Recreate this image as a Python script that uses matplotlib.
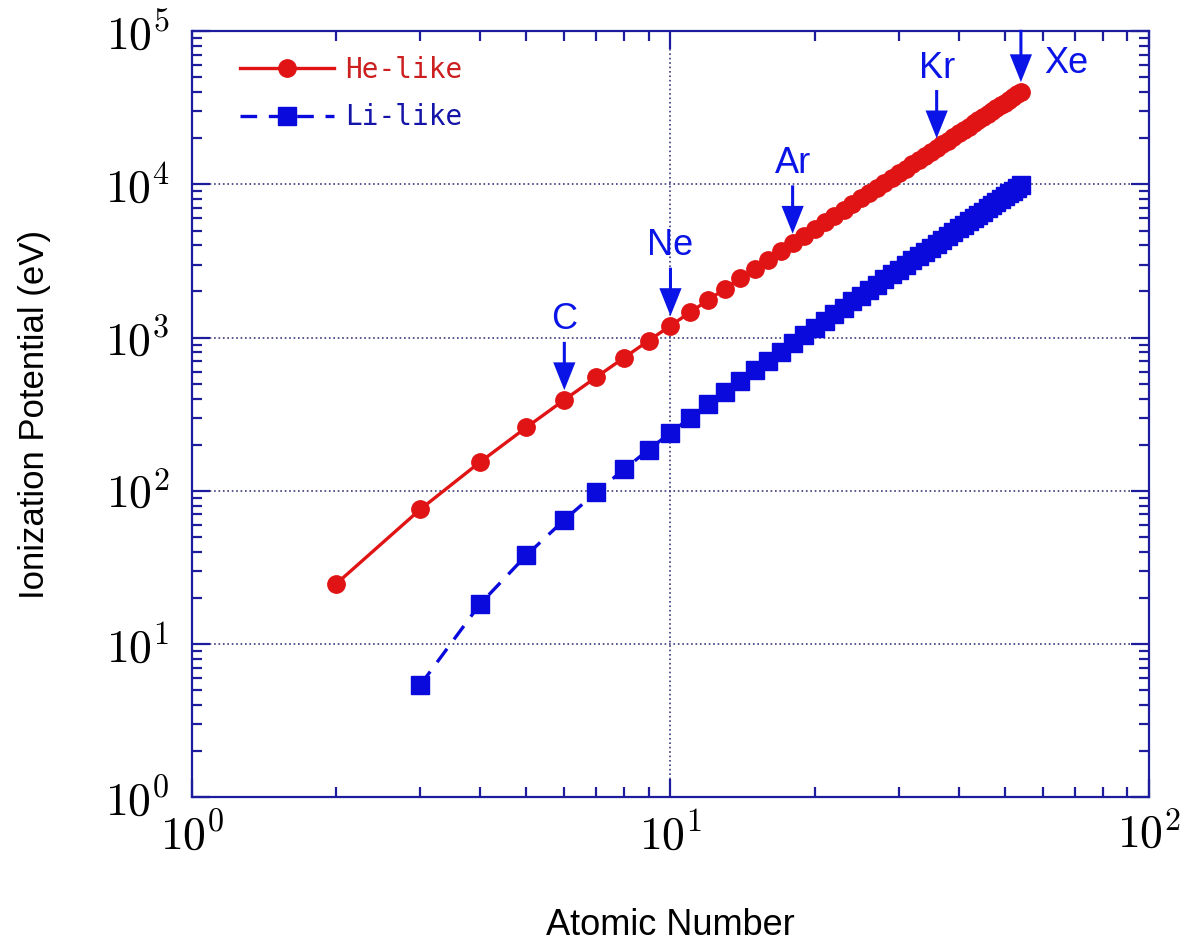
import numpy as np
import matplotlib
matplotlib.use('Agg')
import matplotlib.pyplot as plt
from matplotlib.ticker import LogLocator, FuncFormatter, NullFormatter

matplotlib.rcParams['mathtext.fontset'] = 'cm'
matplotlib.rcParams['font.family'] = 'Liberation Sans'

# He-like ions, Z = 2..54, ionization potential (eV)
z_he = list(range(2, 55))
ip_he = [24.6, 75.6, 153.9, 259.4, 392.1, 552.1, 739.3, 953.9, 1195.8, 1465.1,
         1761.8, 2086.0, 2438.0, 2817.0, 3224.0, 3658.0, 4121.0, 4611.0, 5129.0, 5675.0,
         6249.0, 6851.0, 7482.0, 8141.0, 8828.0, 9544.0, 10289.0, 11062.0, 11864.0, 12697.0,
         13557.0, 14447.0, 15367.0, 16317.0, 17296.0, 18306.0, 19345.0, 20415.0, 21516.0, 22648.0,
         23810.0, 25004.0, 26228.0, 27484.0, 28771.0, 30090.0, 31440.0, 32823.0, 34238.0, 35685.0,
         37164.0, 38676.0, 40271.0]

# Li-like ions, Z = 3..54
z_li = list(range(3, 55))
ip_li = [5.39, 18.21, 37.93, 64.49, 97.89, 138.12, 185.19, 239.1, 299.9, 367.5,
         442.0, 523.4, 611.7, 707.0, 809.4, 918.0, 1033.4, 1157.8, 1288.0, 1425.4,
         1569.6, 1721.4, 1880.0, 2045.8, 2218.8, 2399.2, 2587.0, 2782.0, 2985.0, 3196.0,
         3414.0, 3640.0, 3874.0, 4115.0, 4365.0, 4623.0, 4888.0, 5163.0, 5444.0, 5735.0,
         6033.0, 6340.0, 6656.0, 6981.0, 7314.0, 7656.0, 8007.0, 8367.0, 8736.0, 9115.0,
         9502.0, 9899.0]

# marked elements (He-like)
elements = ['C', 'Ne', 'Ar', 'Kr', 'Xe']
element_z = [6, 10, 18, 36, 54]

red = '#e01414'
blue = '#0a0adc'
navy = '#1c1c9c'
arrow_blue = '#0a14e6'

fig = plt.figure(figsize=(11.8, 9.43), dpi=100)
ax = fig.add_axes([0.1627, 0.1548, 0.811, 0.812])

ax.plot(z_he, ip_he, color=red, lw=2.4, marker='o', ms=12.5, mec=red, mfc=red, label='He-like', zorder=4)
ax.plot(z_li, ip_li, color=blue, lw=2.4, ls=(0, (5, 3.5)), marker='s', ms=12.5, mec=blue, mfc=blue,
        label='Li-like', zorder=3)

ax.set_xscale('log')
ax.set_yscale('log')
ax.set_xlim(1, 100)
ax.set_ylim(1, 1e5)

fmt = FuncFormatter(lambda v, p: r'$10^{%d}$' % int(round(np.log10(v))))
for axis in (ax.xaxis, ax.yaxis):
    axis.set_major_locator(LogLocator(base=10, numticks=10))
    axis.set_minor_locator(LogLocator(base=10, subs=np.arange(2, 10), numticks=20))
    axis.set_major_formatter(fmt)
    axis.set_minor_formatter(NullFormatter())

ax.tick_params(which='both', direction='in', top=True, right=True, color=navy, labelsize=33)
ax.tick_params(which='major', length=13, width=1.6)
ax.tick_params(which='minor', length=7, width=1.6)
ax.tick_params(axis='y', pad=16)
ax.tick_params(axis='x', pad=12)
for s in ax.spines.values():
    s.set_color(navy)
    s.set_linewidth(1.6)

ax.grid(True, which='major', ls=':', lw=1.2, color='#3a3a7a')

ax.set_xlabel('Atomic Number', fontsize=26)
ax.set_ylabel('Ionization Potential (eV)', fontsize=25)
ax.xaxis.set_label_coords(0.5, -0.145)
ax.yaxis.set_label_coords(-0.147, 0.5)

# arrows pointing at the marked elements
ip_lookup = dict(zip(z_he, ip_he))
for name, z in zip(elements, element_z):
    v = ip_lookup[z]
    top = 58 if name != 'Xe' else 62
    ax.annotate('', xy=(z, v), xycoords='data', xytext=(0, top), textcoords='offset pixels',
                arrowprops=dict(arrowstyle='simple,head_length=2.0,head_width=1.6,tail_width=0.22',
                                mutation_scale=10, shrinkA=0, shrinkB=7, color=arrow_blue, lw=0),
                annotation_clip=False, zorder=5)
    if name == 'Xe':
        ax.annotate(name, xy=(z, v), xytext=(45, 28), textcoords='offset pixels',
                    ha='center', va='center', fontsize=26, color=arrow_blue, annotation_clip=False)
    else:
        ax.annotate(name, xy=(z, v), xytext=(0, 80), textcoords='offset pixels',
                    ha='center', va='center', fontsize=26, color=arrow_blue, annotation_clip=False)

leg = ax.legend(loc='upper left', bbox_to_anchor=(0.05, 0.968), frameon=False,
                prop={'family': 'DejaVu Sans Mono', 'size': 20}, handlelength=3.4,
                handletextpad=0.4, labelspacing=0.7, borderaxespad=0, borderpad=0)
for t, c in zip(leg.get_texts(), ['#cc2020', '#1414a8']):
    t.set_color(c)

fig.savefig('out.png', dpi=100)
